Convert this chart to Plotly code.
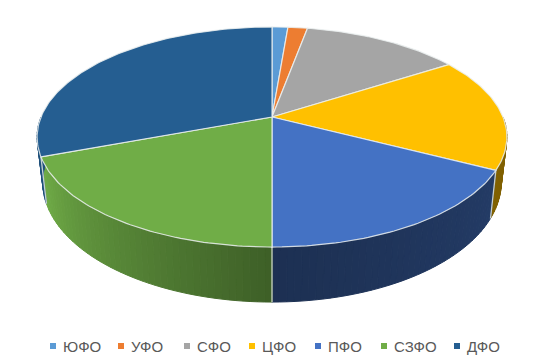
import math
import plotly.graph_objects as go

categories = ["ЮФО", "УФО", "СФО", "ЦФО", "ПФО", "СЗФО", "ДФО"]
values = [1.3, 1.6, 13.0, 16.7, 17.4, 19.3, 30.7]
colors = ["#5B9BD5", "#ED7D31", "#A5A5A5", "#FFC000", "#4472C4", "#70AD47", "#255E91"]
# wall brightness at the start and end of each slice
wall_shade = [(.6, .6), (.6, .6), (.6, .6), (.5, .5), (.52, .42), (.55, 1.0), (.85, .85)]

# picture geometry
CX, APEX_Y = 272, 117
K, A, B = 40 / 220, 106.4, 231
WALL_S = .976
LEGEND_MARK_X = [53, 121, 187, 252, 318, 384, 457]
LEGEND_Y = 346


def top(t):
    X, Y = math.sin(t), math.cos(t)
    w = 1 + K * Y
    return CX + B * X / w, APEX_Y - A * Y / w


def bottom(t):
    x, y = top(t)
    return CX + WALL_S * (x - CX), y + 55 - (247 - y) * .09


def shade(hex_color, f):
    r, g, b = (int(hex_color[i:i + 2], 16) for i in (1, 3, 5))
    return f"rgb({min(255, r * f):.0f},{min(255, g * f):.0f},{min(255, b * f):.0f})"


total = sum(values)
edges = [0]
for v in values:
    edges.append(edges[-1] + v / total * 2 * math.pi)

fig = go.Figure()


def poly(xs, ys, fill, line=None, width=1):
    fig.add_trace(go.Scatter(x=xs, y=ys, mode="lines", fill="toself", fillcolor=fill,
                             line=dict(color=line or fill, width=width),
                             hoverinfo="skip", showlegend=False))


# side walls of the front half, as thin shaded strips
for i, name in enumerate(categories):
    a0, a1 = edges[i], edges[i + 1]
    lo, hi = max(a0, math.pi / 2), min(a1, 3 * math.pi / 2)
    if hi <= lo:
        continue
    n = max(2, int((hi - lo) / math.radians(1.5)))
    for j in range(n):
        t0 = lo + (hi - lo) * j / n
        t1 = lo + (hi - lo) * (j + 1) / n
        f = wall_shade[i][0] + (wall_shade[i][1] - wall_shade[i][0]) * ((t0 + t1) / 2 - a0) / (a1 - a0)
        p = [top(t0), top(t1), bottom(t1), bottom(t0), top(t0)]
        poly([q[0] for q in p], [q[1] for q in p], shade(colors[i], f))

# pale lines where the walls meet
for e in edges[1:]:
    if math.pi / 2 < e < 3 * math.pi / 2:
        p, q = top(e), bottom(e)
        fig.add_trace(go.Scatter(x=[p[0], q[0]], y=[p[1], q[1]], mode="lines",
                                 line=dict(color="rgba(225,230,225,.85)", width=1.3),
                                 hoverinfo="skip", showlegend=False))

# top face
for i, name in enumerate(categories):
    a0, a1 = edges[i], edges[i + 1]
    n = max(2, int((a1 - a0) / math.radians(1)))
    pts = [top(a0 + (a1 - a0) * j / n) for j in range(n + 1)]
    xs = [CX] + [q[0] for q in pts] + [CX]
    ys = [APEX_Y] + [q[1] for q in pts] + [APEX_Y]
    poly(xs, ys, colors[i], line="rgba(235,240,240,.85)", width=1.2)

# legend
for name, col, mx in zip(categories, colors, LEGEND_MARK_X):
    fig.add_trace(go.Scatter(x=[mx], y=[LEGEND_Y], mode="markers",
                             marker=dict(symbol="square", size=6, color=col),
                             hoverinfo="skip", showlegend=False, name=name))
    fig.add_annotation(x=mx + 10, y=LEGEND_Y, text=name, showarrow=False, xanchor="left",
                       yanchor="middle", xshift=-2,
                       font=dict(family="Liberation Sans, Arial, sans-serif", size=15, color="#595959"))

fig.update_layout(width=533, height=361, margin=dict(l=0, r=0, t=0, b=0),
                  paper_bgcolor="white", plot_bgcolor="white", showlegend=False,
                  xaxis=dict(range=[0, 533], visible=False, fixedrange=True),
                  yaxis=dict(range=[361, 0], visible=False, fixedrange=True))
fig.write_html("out.html", config={"displayModeBar": False},
               post_script="document.body.style.margin='0';document.documentElement.style.overflow='hidden';")
